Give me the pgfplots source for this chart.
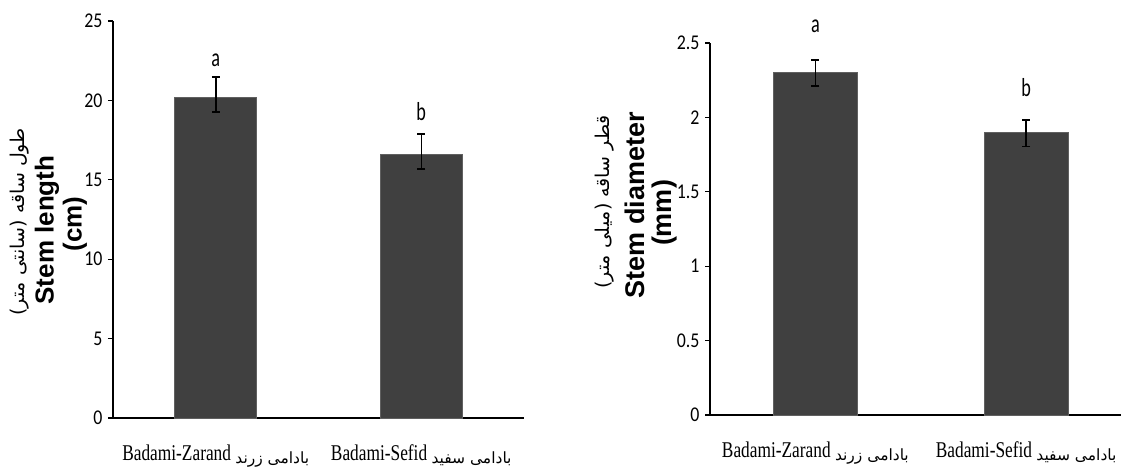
\documentclass[border=0pt]{standalone}
\usepackage{fontspec}
\usepackage{pgfplots}
\pgfplotsset{compat=1.18}
\TeXXeTstate=1
\setmainfont[FakeStretch=0.77]{Liberation Serif}
\newfontfamily\tickfont[FakeStretch=0.85]{Carlito}
\newfontfamily\letfont[FakeStretch=0.7]{Carlito}
\newfontfamily\lblfont{Liberation Sans}
\newfontfamily\fafont[Script=Arabic]{DejaVu Sans}
\definecolor{barfill}{RGB}{64,64,64}
\definecolor{baredge}{RGB}{96,96,96}
\pgfplotsset{
  mybar/.style={
    scale only axis,
    width=411bp,
    axis x line*=bottom, axis y line*=left,
    axis line style={-, line width=1.8bp, black},
    ybar, bar width=0.4,
    xtick={0,1}, xtick style={draw=none},
    ytick style={line width=1.2bp, black},
    major tick length=5bp,
    tick align=outside,
    /pgf/number format/assume math mode=true,
    yticklabel style={font=\fontsize{21bp}{23bp}\tickfont, xshift=-2bp},
    xticklabel style={font=\fontsize{22.5bp}{24bp}\selectfont, yshift=-18bp},
    clip=false,
  },
  myerr/.style={
    fill=barfill, draw=baredge, line width=0.8bp,
    error bars/.cd, y dir=both, y explicit,
    error bar style={line width=1.5bp, black},
    error mark options={rotate=90, mark size=4bp, line width=1.8bp, black},
  },
}
\pgfplotstableread{
x y ep em
0 20.2 1.25 0.95
1 16.6 1.3 0.9
}\lengthdata
\pgfplotstableread{
x y ep em
0 2.30 0.087 0.087
1 1.90 0.08 0.095
}\diamdata
\newcommand{\fa}{\fontsize{15.5bp}{16bp}\fafont}
\begin{document}
\begin{tikzpicture}
\useasboundingbox (0,0) rectangle (1121bp,470bp);
\begin{axis}[mybar, at={(113bp,52bp)}, anchor=south west,
  height=397bp, xmin=-0.5, xmax=1.5, ymin=0, ymax=25,
  ytick={0,5,10,15,20,25},
  xticklabels={{Badami-Zarand \raisebox{-3bp}{\fa\beginR بادامی زرند\endR}},{Badami-Sefid \raisebox{-3bp}{\fa\beginR بادامی سفید\endR}}},
]
\addplot[myerr] table[x=x, y=y, y error plus=ep, y error minus=em] {\lengthdata};
\node[font=\fontsize{26bp}{28bp}\letfont] at (axis cs:0,22.5) {a};
\node[font=\fontsize{26bp}{28bp}\letfont] at (axis cs:1,19.3) {b};
\end{axis}
\begin{axis}[mybar, at={(710bp,55bp)}, anchor=south west,
  height=372bp, xmin=-0.5, xmax=1.45, ymin=0, ymax=2.5,
  ytick={0,0.5,1,1.5,2,2.5},
  xticklabels={{Badami-Zarand \raisebox{-3bp}{\fa\beginR بادامی زرند\endR}},{Badami-Sefid \raisebox{-3bp}{\fa\beginR بادامی سفید\endR}}},
]
\addplot[myerr] table[x=x, y=y, y error plus=ep, y error minus=em] {\diamdata};
\node[font=\fontsize{26bp}{28bp}\letfont] at (axis cs:0,2.61) {a};
\node[font=\fontsize{26bp}{28bp}\letfont] at (axis cs:1,2.20) {b};
\end{axis}
% y labels
\node[rotate=90, font=\fontsize{19bp}{21bp}\fafont] at (20bp,248bp) {\beginR طول ساقه (سانتی متر)\endR};
\node[rotate=90, font=\fontsize{26bp}{28bp}\lblfont\bfseries] at (47bp,240bp) {Stem length};
\node[rotate=90, font=\fontsize{26bp}{28bp}\lblfont\bfseries] at (75bp,246bp) {(cm)};
\node[rotate=90, font=\fontsize{19bp}{21bp}\fafont] at (605bp,268bp) {\beginR قطر ساقه (میلی متر)\endR};
\node[rotate=90, font=\fontsize{27bp}{29bp}\lblfont\bfseries] at (635bp,265bp) {Stem diameter};
\node[rotate=90, font=\fontsize{27bp}{29bp}\lblfont\bfseries] at (665bp,257bp) {(mm)};
\end{tikzpicture}
\end{document}
